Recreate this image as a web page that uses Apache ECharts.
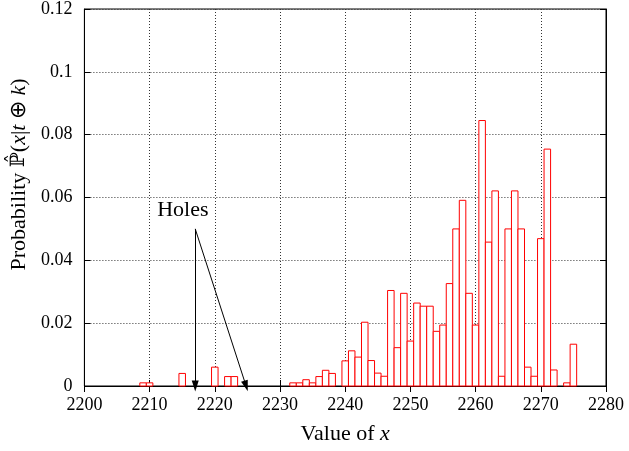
<!DOCTYPE html>
<html>
<head>
<meta charset="utf-8">
<script src="https://cdn.jsdelivr.net/npm/echarts@6/dist/echarts.min.js"></script>
<style>html,body{margin:0;padding:0;background:#fff}#c{width:629px;height:451px}</style>
</head>
<body>
<div id="c"></div>
<script>
// ---- data ----
const xValues = [2209,2210,2215,2220,2222,2223,
  2232,2233,2234,2235,2236,2237,2238,
  2240,2241,2242,2243,2244,2245,2246,2247,2248,2249,2250,2251,2252,2253,2254,2255,2256,2257,2258,2259,2260,2261,2262,2263,2264,2265,2266,2267,2268,2269,2270,2271,2272,
  2274,2275];
const probs = [0.001,0.001,0.004,0.006,0.003,0.003,
  0.001,0.001,0.002,0.001,0.003,0.005,0.004,
  0.008,0.0112,0.0092,0.0203,0.0081,0.0041,0.0031,0.0304,0.0122,0.0295,0.0143,0.0264,0.0254,0.0254,0.0174,0.0194,0.0326,0.05,0.0591,0.0295,0.0194,0.0845,0.0458,0.0621,0.0031,0.05,0.0621,0.05,0.006,0.0031,0.0469,0.0754,0.0051,
  0.001,0.0133];
const xTicks = [2200,2210,2220,2230,2240,2250,2260,2270,2280];
const yTicks = [0,0.02,0.04,0.06,0.08,0.1,0.12];
const holesLabel = 'Holes';
const holesLabelPos = [2215.1, 0.0558];
const arrowStart = [2217, 0.05];
const arrowEnds = [[2217, 0], [2224.8, 0]];

const FONT = 'Liberation Serif';
const chart = echarts.init(document.getElementById('c'), null, {renderer: 'canvas'});

const gridDash = {color: '#333', width: 1, type: [1, 2]};
const baseX = {
  type: 'value', min: xTicks[0], max: xTicks[xTicks.length - 1], interval: 10
};
const baseY = {
  type: 'value', min: yTicks[0], max: yTicks[yTicks.length - 1], interval: 0.02
};

const option = {
  backgroundColor: '#fff',
  animation: false,
  grid: {left: 84, right: 23, top: 6, bottom: 65, show: true, borderColor: '#000', borderWidth: 1, backgroundColor: 'transparent'},
  xAxis: [
    Object.assign({}, baseX, {
      position: 'bottom',
      name: 'Value of {i|x}',
      nameLocation: 'middle',
      nameGap: 37,
      nameTextStyle: {fontFamily: FONT, fontSize: 22, color: '#000',
        rich: {i: {fontFamily: FONT, fontStyle: 'italic', fontSize: 22, color: '#000'}}},
      axisLine: {show: true, lineStyle: {color: '#000', width: 1}},
      axisTick: {show: true, inside: true, length: 6, lineStyle: {color: '#000'}},
      axisLabel: {fontFamily: FONT, fontSize: 18, color: '#000', margin: 10,
        formatter: function (v) { return String(v); }},
      splitLine: {show: true, lineStyle: gridDash}
    }),
    Object.assign({}, baseX, {
      position: 'top',
      axisLine: {show: true, lineStyle: {color: '#000', width: 1}},
      axisTick: {show: true, inside: true, length: 6, lineStyle: {color: '#000'}},
      axisLabel: {show: false},
      splitLine: {show: false}
    })
  ],
  yAxis: [
    Object.assign({}, baseY, {
      position: 'left',
      name: 'Probability {p|ℙ̂}({i|x}|{i|t} ⊕ {i|k})',
      nameLocation: 'middle',
      nameGap: 47,
      nameTextStyle: {fontFamily: FONT, fontSize: 22, color: '#000',
        padding: [0, 0, 0, 46],
        rich: {
          i: {fontFamily: FONT, fontStyle: 'italic', fontSize: 22, color: '#000'},
          p: {fontFamily: 'DejaVu Serif', fontSize: 20, color: '#000'}
        }},
      axisLine: {show: true, lineStyle: {color: '#000', width: 1}},
      axisTick: {show: true, inside: true, length: 6, lineStyle: {color: '#000'}},
      axisLabel: {fontFamily: FONT, fontSize: 18, color: '#000', margin: 12,
        formatter: function (v) { return String(+v.toFixed(4)); }},
      splitLine: {show: true, lineStyle: gridDash}
    }),
    Object.assign({}, baseY, {
      position: 'right',
      axisLine: {show: true, lineStyle: {color: '#000', width: 1}},
      axisTick: {show: true, inside: true, length: 6, lineStyle: {color: '#000'}},
      axisLabel: {show: false},
      splitLine: {show: false}
    })
  ],
  series: [{
    type: 'custom',
    xAxisIndex: 0,
    yAxisIndex: 0,
    z: 3,
    data: xValues.map((x, i) => [x, probs[i]]),
    renderItem: function (params, api) {
      const x = api.value(0), y = api.value(1);
      const p0 = api.coord([x - 0.5, y]);
      const p1 = api.coord([x + 0.5, 0]);
      return {
        type: 'rect',
        shape: {x: p0[0], y: p0[1], width: p1[0] - p0[0], height: p1[1] - p0[1]},
        style: {fill: '#fff', stroke: '#ff0000', lineWidth: 1}
      };
    },
    markLine: {
      silent: true,
      symbol: ['none', 'triangle'],
      symbolSize: [7, 11],
      label: {show: false},
      lineStyle: {color: '#000', width: 1, type: 'solid'},
      emphasis: {disabled: true},
      data: arrowEnds.map(e => [{coord: arrowStart}, {coord: e}])
    },
    markPoint: {
      silent: true,
      symbol: 'circle',
      symbolSize: 0,
      itemStyle: {color: 'transparent'},
      label: {show: true, position: 'inside', fontFamily: FONT, fontSize: 22, color: '#000', formatter: holesLabel},
      data: [{coord: holesLabelPos}]
    }
  }]
};
chart.setOption(option);
</script>
</body>
</html>
